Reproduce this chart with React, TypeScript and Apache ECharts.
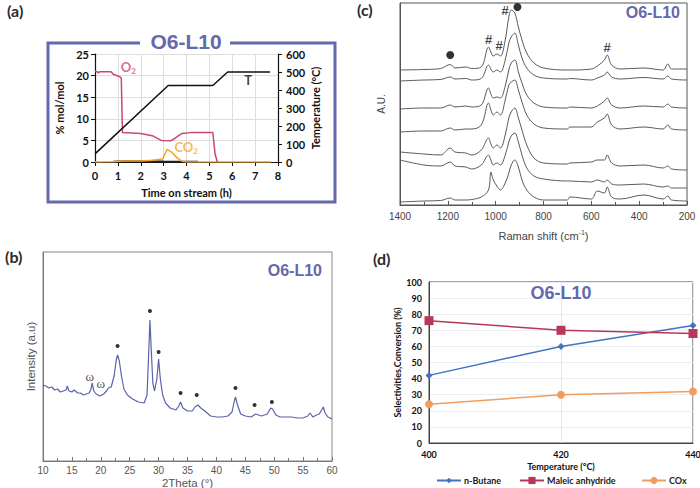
import { useEffect, useRef } from 'react';
import * as echarts from 'echarts';

// ---------- (a) Time on stream ----------
const O2_DATA = [[0,21],[0.1,20.9],[0.15,20.6],[0.2,20.9],[0.7,20.9],[0.8,20.3],[1.0,19.9],[1.1,19.7],[1.15,19.4],[1.2,6.8],[2.0,6.6],[2.5,6.1],[2.9,5.0],[3.3,4.9],[3.5,5.5],[3.8,6.6],[4.2,6.8],[5.15,6.8],[5.25,1.8],[5.35,0]];
const CO2_DATA = [[0,0],[0.8,0.05],[1.2,0.25],[2.0,0.25],[2.5,0.4],[2.95,0.7],[3.15,2.9],[3.35,2.3],[3.6,0.9],[3.8,0.2],[4.0,0],[7.7,0]];
const CO_DATA = [[0.8,0.05],[1.2,0.15],[2.2,0.15],[3.0,0.1],[4.5,0.05]];
const T_DATA = [[0,45],[3.2,425],[5.15,425],[5.8,500],[7.65,500]];
const A_LABELS = [{ x: 1.1, y: 21.9, text: 'O{sub|2}', color: '#c9467a' }, { x: 3.45, y: 3.4, text: 'CO{sub|2}', color: '#f7a428' }];
const T_LABEL = { x: 6.5, y: 455, text: 'T' };

// ---------- (b) XRD ----------
const XRD_DATA = [[10,76],[10.5,75],[11,73],[11.5,74],[12,71],[12.5,72],[13,69],[13.5,70],[14.0,71],[14.2,75],[14.5,70],[15,69],[15.4,71],[16,68],[16.5,68],[17,66],[17.5,67],[18,68],[18.3,72],[18.5,78],[18.8,70],[19.2,67],[19.8,65],[20.5,67],[21.0,70],[21.3,73],[21.8,74],[22.3,85],[22.7,102],[22.9,106],[23.2,100],[23.6,84],[24,72],[24.6,66],[25.5,62],[26.5,59],[27.5,58],[28.0,66],[28.3,110],[28.5,141],[28.7,115],[29.0,78],[29.3,70],[29.7,82],[30.0,102],[30.3,82],[30.7,66],[31.2,58],[32,53],[33,51],[33.5,55],[33.8,59],[34.2,53],[35,50],[35.8,50],[36.3,54],[36.8,56],[37.3,53],[38,50],[39,45],[40,44],[41,44],[42,45],[42.7,49],[43.1,60],[43.3,64],[43.6,57],[44.2,47],[45,45],[46,44],[46.8,47],[47.8,45],[48.8,47],[49.4,53],[49.7,52],[50.3,46],[51,44],[52,44],[53,44],[54,43],[55,43],[55.8,45],[56.2,48],[56.7,44],[57.3,46],[57.8,47],[58.3,52],[58.5,54],[58.8,48],[59.3,44],[60,42]];
const XRD_DOTS = [[22.9,115],[28.5,150],[30.0,109],[33.8,68],[36.6,66],[43.3,73],[46.6,56],[49.6,59]];
const XRD_OMEGA = [[18.1,85],[20.0,78]];

// ---------- (c) Raman ----------
const RAMAN_X = [1400,1300,1230,1190,1170,1125,1100,1060,1030,1020,1010,995,980,960,945,935,920,905,890,870,840,800,700,690,600,575,545,534,515,480,380,300,280,265,200];
const RAMAN_1 = [135,135.5,136.5,140.5,137,138,136.5,138,158,153,149,151,149,165,188,195,192,178,165,152,142,137,135,135,136,139,145,150,140,136,137,135,141,136,136];
const RAMAN_2 = [124,125,125.5,128,126,126.5,125,126.5,140,136,133,135,133,145,162,168,172,160,147,137,130,127,126,126.5,125,127,130,133,128,126,127.5,126,129,126,125];
const RAMAN_3 = [96,97,97,100,98,99,98,100,117,111,107,108,107,119,135,142,145,133,122,110,102,98,97,98,97,99,104,107,100,97,99,98,101,98,97];
const RAMAN_4 = [73,74,74,77,75,76,76,80,102,95,90,93,90,105,120,123,125,115,103,90,81,77,76,78,78,83,87,91,80,76,78,76,80,76,75];
const RAMAN_5 = [53,51,50,57,53,52,50,55,67,61,57,60,57,70,87,93,97,87,75,60,47,42,41,42,43,45,45,50,42,39,40,37,39,36,35];
const RAMAN_6 = [45,40,39,43,39,38,36,40,50,45,40,42,40,50,63,69,72,63,50,37,29,26,24,24,23,25,23,25,21,20,21,18,19,17,17];
const RAMAN_7 = [3,4,4.5,7,5,5,5.5,8,15,33,25,19,15,22,32,40,45,38,25,15,8,5,5,8,6,14,12,18,8,6,10,6,9,5,4];
const RAMAN_TRACES = [RAMAN_1, RAMAN_2, RAMAN_3, RAMAN_4, RAMAN_5, RAMAN_6, RAMAN_7];
const RAMAN_DOTS = [[1190,150],[909,198]];
const RAMAN_HASH = [[1030,166],[986,160],[960,195],[534,158]];

// ---------- (d) Catalytic ----------
const D_TEMPS = [400, 420, 440];
const D_BUTANE = [42, 60, 73];
const D_MALEIC = [76, 70, 68];
const D_COX = [24, 30, 32];

const CAL = 'Lato, "Open Sans", sans-serif';
const ARIAL = '"Liberation Sans", Arial, sans-serif';
const PURPLE = '#6468ac';

const excelLabel = { fontFamily: CAL, fontWeight: 'bold' as const, color: '#111' };

function buildOption() {
  const pair = (xs: number[], ys: number[]) => xs.map((x, i) => [x, ys[i]]);
  const labelScatter = (data: any[], xi: number, yi: number, extra: any) => ({
    type: 'scatter', xAxisIndex: xi, yAxisIndex: yi, silent: true,
    symbol: 'circle', symbolSize: 1, itemStyle: { color: 'rgba(0,0,0,0)' },
    data, z: 5, ...extra,
  });
  const plain = (v: number) => String(v);
  return {
    animation: false,
    backgroundColor: '#ffffff',
    grid: [
      { left: 95, top: 54, width: 183, height: 108, outerBoundsMode: 'none', containLabel: false },
      { left: 43, top: 252, width: 289, height: 209, show: true, borderColor: '#888', borderWidth: 1, outerBoundsMode: 'none', containLabel: false },
      { left: 400, top: 3, width: 287, height: 202, show: true, borderColor: '#555', borderWidth: 1, outerBoundsMode: 'none', containLabel: false },
      { left: 429, top: 282, width: 264, height: 161, show: true, borderColor: '#444', borderWidth: 1, outerBoundsMode: 'none', containLabel: false },
    ],
    xAxis: [
      {
        gridIndex: 0, type: 'value', min: 0, max: 8, interval: 1,
        axisLine: { show: true, lineStyle: { color: '#111', width: 1.2 } },
        axisTick: { show: true, length: 4, lineStyle: { color: '#111' } },
        splitLine: { show: true, lineStyle: { color: '#dedede' } },
        axisLabel: { ...excelLabel, fontSize: 11, margin: 8, formatter: plain },
        name: 'Time on stream (h)', nameLocation: 'middle', nameGap: 25,
        nameTextStyle: { ...excelLabel, fontSize: 11 },
      },
      {
        gridIndex: 1, type: 'value', min: 10, max: 60, interval: 5,
        axisLine: { show: true, lineStyle: { color: '#777' } },
        axisTick: { show: true, inside: true, length: 4, lineStyle: { color: '#777' } },
        minorTick: { show: true, splitNumber: 2, length: 3, lineStyle: { color: '#777' } },
        splitLine: { show: false },
        axisLabel: { fontFamily: ARIAL, fontSize: 10, color: '#555', margin: 4, formatter: plain },
        name: '2Theta (°)', nameLocation: 'middle', nameGap: 16,
        nameTextStyle: { fontFamily: ARIAL, fontSize: 11.5, color: '#555' },
      },
      {
        gridIndex: 2, type: 'value', min: 200, max: 1400, interval: 200, inverse: true,
        axisLine: { show: true, lineStyle: { color: '#555' } },
        axisTick: { show: true, inside: true, length: 4, lineStyle: { color: '#555' } },
        minorTick: { show: true, splitNumber: 2, length: 3, lineStyle: { color: '#555' } },
        splitLine: { show: false },
        axisLabel: { fontFamily: ARIAL, fontSize: 10, color: '#444', margin: 6, formatter: plain },
        name: 'Raman shift (cm{sup|-1})', nameLocation: 'middle', nameGap: 24,
        nameTextStyle: { fontFamily: ARIAL, fontSize: 11, color: '#444', rich: { sup: { fontFamily: ARIAL, fontSize: 7, color: '#444', verticalAlign: 'top', padding: [0, 0, 6, 0] } } },
      },
      {
        gridIndex: 3, type: 'value', min: 400, max: 440, interval: 20,
        axisLine: { show: true, lineStyle: { color: '#444' } },
        axisTick: { show: false },
        splitLine: { show: true, lineStyle: { color: '#e2e4f0' } },
        axisLabel: { ...excelLabel, fontSize: 9, margin: 7, formatter: plain },
        name: 'Temperature (°C)', nameLocation: 'middle', nameGap: 19,
        nameTextStyle: { ...excelLabel, fontSize: 9 },
      },
    ],
    yAxis: [
      {
        gridIndex: 0, type: 'value', min: 0, max: 25, interval: 5, position: 'left',
        axisLine: { show: true, lineStyle: { color: '#111', width: 1.2 } },
        axisTick: { show: true, length: 4, lineStyle: { color: '#111' } },
        splitLine: { show: true, lineStyle: { color: '#dedede' } },
        axisLabel: { ...excelLabel, fontSize: 11, margin: 6, formatter: plain },
        name: '% mol/mol', nameLocation: 'middle', nameGap: 30,
        nameTextStyle: { ...excelLabel, fontSize: 11 },
      },
      {
        gridIndex: 0, type: 'value', min: 0, max: 600, interval: 100, position: 'right',
        axisLine: { show: true, lineStyle: { color: '#111', width: 1.2 } },
        axisTick: { show: true, length: 4, lineStyle: { color: '#111' } },
        splitLine: { show: false },
        axisLabel: { ...excelLabel, fontSize: 11, margin: 8, formatter: plain },
        name: 'Temperature (°C)', nameLocation: 'middle', nameGap: 32,
        nameTextStyle: { ...excelLabel, fontSize: 11 },
      },
      {
        gridIndex: 1, type: 'value', min: 0, max: 209,
        axisLine: { show: true, lineStyle: { color: '#777' } },
        axisTick: { show: false }, axisLabel: { show: false }, splitLine: { show: false },
        name: 'Intensity (a.u)', nameLocation: 'middle', nameGap: 6,
        nameTextStyle: { fontFamily: ARIAL, fontSize: 11.5, color: '#555' },
      },
      {
        gridIndex: 2, type: 'value', min: 0, max: 202,
        axisLine: { show: true, lineStyle: { color: '#555' } },
        axisTick: { show: false }, axisLabel: { show: false }, splitLine: { show: false },
        name: 'A.U.', nameLocation: 'middle', nameGap: 14,
        nameTextStyle: { fontFamily: ARIAL, fontSize: 10, color: '#444' },
      },
      {
        gridIndex: 3, type: 'value', min: 0, max: 100, interval: 10,
        axisLine: { show: true, lineStyle: { color: '#444' } },
        axisTick: { show: false },
        splitLine: { show: true, lineStyle: { color: '#eceef6' } },
        axisLabel: { ...excelLabel, fontSize: 9, margin: 7, formatter: plain },
        name: 'Selectivities,Conversion (%)', nameLocation: 'middle', nameGap: 23,
        nameTextStyle: { ...excelLabel, fontSize: 9 },
      },
    ],
    legend: [
      { data: ['n-Butane'], left: 436, top: 476, padding: 0, itemGap: 4, itemWidth: 24, itemHeight: 7, textStyle: { ...excelLabel, fontSize: 9, color: '#222', padding: [0, 0, 0, -2] } },
      { data: ['Maleic anhydride'], left: 519, top: 476, padding: 0, itemWidth: 24, itemHeight: 9, textStyle: { ...excelLabel, fontSize: 9, color: '#222', padding: [0, 0, 0, -2] } },
      { data: ['COx'], left: 641, top: 476, padding: 0, itemWidth: 24, itemHeight: 9, textStyle: { ...excelLabel, fontSize: 9, color: '#222', padding: [0, 0, 0, -2] } },
    ],
    series: [
      // (a)
      { name: 'CO', type: 'line', xAxisIndex: 0, yAxisIndex: 0, data: CO_DATA, symbol: 'none', lineStyle: { color: '#222', width: 2 }, z: 2 },
      { name: 'CO2', type: 'line', xAxisIndex: 0, yAxisIndex: 0, data: CO2_DATA, symbol: 'none', lineStyle: { color: '#f7a428', width: 1.5 }, z: 3 },
      { name: 'O2', type: 'line', xAxisIndex: 0, yAxisIndex: 0, data: O2_DATA, symbol: 'none', lineStyle: { color: '#c9467a', width: 1.5 }, z: 3 },
      { name: 'T', type: 'line', xAxisIndex: 0, yAxisIndex: 1, data: T_DATA, symbol: 'none', lineStyle: { color: '#111', width: 1.5 }, z: 3 },
      labelScatter(A_LABELS.map(l => ({ value: [l.x, l.y], label: { color: l.color } , name: l.text })), 0, 0, {
        label: { show: true, position: 'right', distance: 0, formatter: (p: any) => p.name, fontFamily: CAL, fontWeight: 'bold', fontSize: 13,
          rich: { sub: { fontFamily: CAL, fontWeight: 'bold', fontSize: 8, verticalAlign: 'bottom', padding: [8, 0, 0, 0] } } },
      }),
      labelScatter([{ value: [T_LABEL.x, T_LABEL.y], name: T_LABEL.text }], 0, 1, {
        label: { show: true, position: 'right', distance: 0, formatter: (p: any) => p.name, fontFamily: CAL, fontWeight: 'bold', fontSize: 13, color: '#111' },
      }),
      // (b)
      { name: 'XRD', type: 'line', xAxisIndex: 1, yAxisIndex: 2, data: XRD_DATA, symbol: 'none', lineStyle: { color: '#5a63aa', width: 1.2 }, z: 3 },
      { name: 'XRDdots', type: 'scatter', xAxisIndex: 1, yAxisIndex: 2, data: XRD_DOTS, symbol: 'circle', symbolSize: 4, itemStyle: { color: '#000' }, silent: true },
      labelScatter(XRD_OMEGA, 1, 2, {
        label: { show: true, position: 'inside', formatter: 'ω', fontFamily: '"Liberation Serif", "DejaVu Serif", serif', fontSize: 13, color: '#222' },
      }),
      // (c)
      ...RAMAN_TRACES.map((tr, i) => ({
        name: 'Raman' + (i + 1), type: 'line', xAxisIndex: 2, yAxisIndex: 3, data: pair(RAMAN_X, tr),
        symbol: 'none', smooth: 0.35, lineStyle: { color: '#5a5a5a', width: 1 }, z: 3,
      })),
      { name: 'RamanDots', type: 'scatter', xAxisIndex: 2, yAxisIndex: 3, data: RAMAN_DOTS, symbol: 'circle', symbolSize: 8, itemStyle: { color: '#000' }, silent: true },
      labelScatter(RAMAN_HASH, 2, 3, {
        label: { show: true, position: 'inside', formatter: '#', fontFamily: ARIAL, fontWeight: 'bold', fontSize: 13, color: '#111' },
      }),
      // (d)
      { name: 'n-Butane', type: 'line', xAxisIndex: 3, yAxisIndex: 4, data: pair(D_TEMPS, D_BUTANE), symbol: 'diamond', symbolSize: 7, itemStyle: { color: '#4472c4' }, lineStyle: { color: '#4472c4', width: 1.5 } },
      { name: 'Maleic anhydride', type: 'line', xAxisIndex: 3, yAxisIndex: 4, data: pair(D_TEMPS, D_MALEIC), symbol: 'rect', symbolSize: 9, itemStyle: { color: '#b8385a' }, lineStyle: { color: '#b8385a', width: 1.5 } },
      { name: 'COx', type: 'line', xAxisIndex: 3, yAxisIndex: 4, data: pair(D_TEMPS, D_COX), symbol: 'circle', symbolSize: 8, itemStyle: { color: '#f29d5e' }, lineStyle: { color: '#f29d5e', width: 1.5 } },
    ],
    graphic: [
      { type: 'rect', shape: { x: 48, y: 43, width: 287, height: 159 }, style: { fill: 'none', stroke: PURPLE, lineWidth: 3 }, z: 10 },
      { type: 'rect', shape: { x: 140, y: 36, width: 90, height: 14 }, style: { fill: '#fff' }, z: 11 },
      { type: 'text', x: 186, y: 41, style: { text: 'O6-L10', font: 'bold 21px "Liberation Sans", Arial, sans-serif', fill: PURPLE, textAlign: 'center', textVerticalAlign: 'middle' }, z: 12 },
      { type: 'text', x: 322, y: 270, style: { text: 'O6-L10', font: 'bold 16px "Liberation Sans", Arial, sans-serif', fill: PURPLE, textAlign: 'right', textVerticalAlign: 'middle' }, z: 12 },
      { type: 'text', x: 680, y: 12, style: { text: 'O6-L10', font: 'bold 16px "Liberation Sans", Arial, sans-serif', fill: PURPLE, textAlign: 'right', textVerticalAlign: 'middle' }, z: 12 },
      { type: 'text', x: 561, y: 293, style: { text: 'O6-L10', font: 'bold 18px "Liberation Sans", Arial, sans-serif', fill: PURPLE, textAlign: 'center', textVerticalAlign: 'middle' }, z: 12 },
      { type: 'text', x: 7, y: 10, style: { text: '(a)', font: 'bold 16px Lato, sans-serif', fill: '#2b2b2b', textVerticalAlign: 'middle' }, z: 12 },
      { type: 'text', x: 5, y: 256, style: { text: '(b)', font: 'bold 16px Lato, sans-serif', fill: '#2b2b2b', textVerticalAlign: 'middle' }, z: 12 },
      { type: 'text', x: 357, y: 9, style: { text: '(c)', font: 'bold 16px Lato, sans-serif', fill: '#2b2b2b', textVerticalAlign: 'middle' }, z: 12 },
      { type: 'text', x: 373, y: 258, style: { text: '(d)', font: 'bold 16px Lato, sans-serif', fill: '#2b2b2b', textVerticalAlign: 'middle' }, z: 12 },
    ],
  };
}

export default function App() {
  const ref = useRef<HTMLDivElement>(null);
  useEffect(() => {
    if (!ref.current) return;
    const chart = echarts.init(ref.current, null, { renderer: 'svg' });
    chart.setOption(buildOption() as any);
    return () => chart.dispose();
  }, []);
  return <div ref={ref} style={{ position: 'absolute', left: 0, top: 0, width: 700, height: 488, background: '#fff' }} />;
}
